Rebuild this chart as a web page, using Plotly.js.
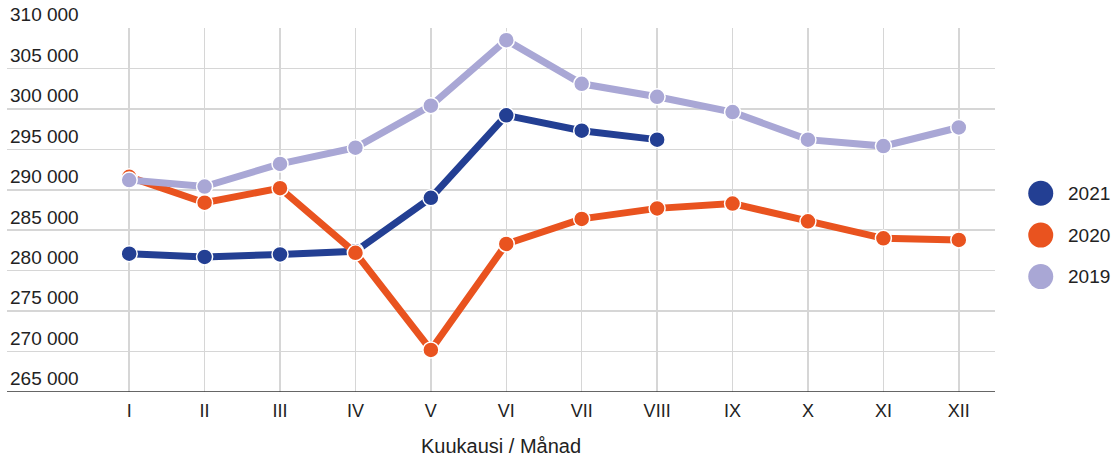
<!DOCTYPE html>
<html>
<head>
<meta charset="utf-8">
<script src="https://cdn.plot.ly/plotly-3.0.1.min.js"></script>
<style>html,body{margin:0;padding:0;background:#fff;}#chart{width:1112px;height:459px;}</style>
</head>
<body>
<div id="chart"></div>
<script>
const months = ["I","II","III","IV","V","VI","VII","VIII","IX","X","XI","XII"];
const years = ["2021","2020","2019"];
const colors = ["#233f93","#e9531f","#a9a7d5"];
const v2021 = [282100, 281700, 282000, 282400, 289000, 299200, 297300, 296200];
const v2020 = [291600, 288400, 290200, 282200, 270200, 283300, 286400, 287700, 288300, 286100, 284000, 283800];
const v2019 = [291200, 290400, 293200, 295200, 300400, 308500, 303100, 301500, 299600, 296200, 295400, 297700];
const series = [v2021, v2020, v2019];

const FONT = "Liberation Sans, Arial, sans-serif";
const TXT = "#222222";

const traces = series.map((vals, i) => ({
  type: "scatter",
  mode: "lines+markers",
  name: years[i],
  x: months.slice(0, vals.length),
  y: vals,
  line: {color: colors[i], width: 7},
  marker: {color: colors[i], size: 16, line: {color: "#ffffff", width: 1.5}},
  showlegend: false,
  hoverinfo: "x+y+name"
}));

// custom legend (large circles)
const shapes = [];
const annotations = [];
const legY = [0.546, 0.431, 0.317];
years.forEach((yr, i) => {
  shapes.push({
    type: "circle", xref: "paper", yref: "paper",
    xsizemode: "pixel", ysizemode: "pixel",
    xanchor: 1.0463, yanchor: legY[i],
    x0: -12.5, x1: 12.5, y0: -12.5, y1: 12.5,
    fillcolor: colors[i], line: {width: 0}
  });
  annotations.push({
    xref: "paper", yref: "paper", x: 1.0716, y: legY[i],
    xanchor: "left", yanchor: "middle", showarrow: false,
    text: yr, font: {family: FONT, size: 19, color: TXT}
  });
});

const layout = {
  width: 1112, height: 459,
  margin: {l: 7, r: 117, t: 28, b: 67},
  paper_bgcolor: "#ffffff", plot_bgcolor: "#ffffff",
  separators: ", ",
  font: {family: FONT, color: TXT},
  xaxis: {
    type: "category",
    categoryarray: months,
    range: [-1.62, 11.48],
    showgrid: true, gridcolor: "#d6d6d6", gridwidth: 1.5,
    showline: false, zeroline: false,
    ticks: "", ticklabelstandoff: 6,
    tickfont: {family: FONT, size: 18, color: TXT},
    title: {text: "Kuukausi / Månad", font: {family: FONT, size: 20, color: TXT}, standoff: 18},
    fixedrange: true
  },
  yaxis: {
    range: [265000, 310000],
    dtick: 5000, tick0: 265000,
    tickformat: ",d",
    showgrid: true, gridcolor: "#d6d6d6", gridwidth: 1.5,
    zeroline: false,
    showline: false,
    ticks: "",
    ticklabelposition: "inside top",
    ticklabeloverflow: "allow",
    tickfont: {family: FONT, size: 19, color: TXT},
    fixedrange: true
  },
  shapes: shapes.concat([{
    type: "line", xref: "paper", yref: "y", x0: 0, x1: 1, y0: 265000, y1: 265000,
    line: {color: "#333333", width: 1.5}
  }]),
  annotations: annotations
};

Plotly.newPlot("chart", traces, layout, {displayModeBar: false, staticPlot: true});
</script>
</body>
</html>
